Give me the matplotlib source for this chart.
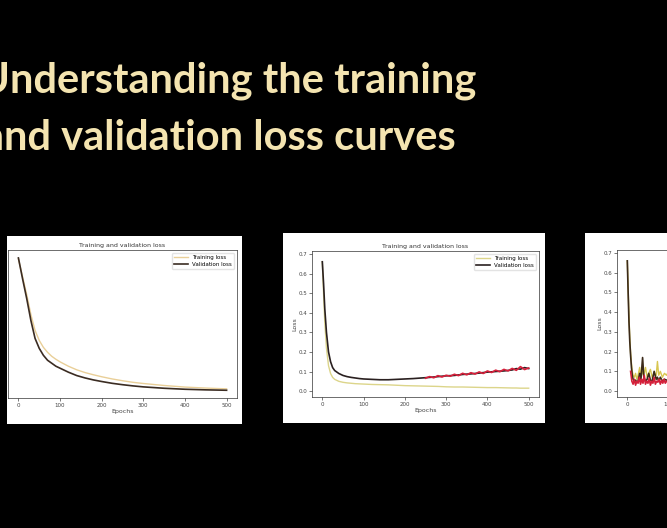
import matplotlib
matplotlib.use("Agg")
import matplotlib.pyplot as plt

W, H = 667, 528

# ---------------- data ----------------
title_lines = ["Understanding the training", "and validation loss curves"]
panel_title = "Training and validation loss"
legend_labels = ["Training loss", "Validation loss"]
xticks = [0, 100, 200, 300, 400, 500]
yticks = [0.0, 0.1, 0.2, 0.3, 0.4, 0.5, 0.6, 0.7]

# Panel 1 (smooth)
p1_epochs = [0, 10, 20, 30, 40, 50, 60, 70, 80, 90, 100, 120, 140, 160, 180, 200,
             225, 250, 275, 300, 350, 400, 450, 500]
p1_train = [0.67, 0.58, 0.49, 0.39, 0.31, 0.26, 0.225, 0.20, 0.18, 0.165, 0.152, 0.13,
            0.112, 0.098, 0.087, 0.077, 0.066, 0.057, 0.049, 0.043, 0.033, 0.025, 0.020, 0.016]
p1_val = [0.675, 0.57, 0.47, 0.36, 0.27, 0.22, 0.185, 0.16, 0.145, 0.13, 0.12, 0.10,
          0.083, 0.071, 0.061, 0.053, 0.044, 0.037, 0.031, 0.026, 0.019, 0.014, 0.011, 0.009]

# Panel 2 (overfitting)
p2_epochs = [0, 3, 6, 10, 15, 20, 25, 30, 40, 50, 60, 70, 80, 90, 100, 120, 140, 160,
             180, 200, 220, 240, 260, 280, 300, 320, 340, 360, 380, 400, 420, 440, 460,
             470, 480, 490, 500]
p2_train = [0.66, 0.50, 0.35, 0.22, 0.13, 0.09, 0.07, 0.06, 0.05, 0.045, 0.042, 0.04,
            0.038, 0.037, 0.036, 0.034, 0.033, 0.032, 0.030, 0.028, 0.027, 0.026, 0.025,
            0.024, 0.022, 0.021, 0.021, 0.020, 0.019, 0.018, 0.018, 0.017, 0.016, 0.016,
            0.015, 0.015, 0.015]
p2_val = [0.66, 0.55, 0.42, 0.30, 0.20, 0.15, 0.12, 0.105, 0.09, 0.08, 0.074, 0.07,
          0.067, 0.064, 0.062, 0.060, 0.058, 0.058, 0.060, 0.062, 0.064, 0.067, 0.070,
          0.074, 0.078, 0.080, 0.085, 0.088, 0.092, 0.097, 0.100, 0.103, 0.108, 0.115,
          0.112, 0.120, 0.115]
p2_noisy_epochs = [250, 260, 270, 280, 290, 300, 310, 320, 330, 340, 350, 360, 370, 380,
                   390, 400, 410, 420, 430, 440, 450, 460, 470, 480, 490, 500]
p2_noisy_val = [0.066, 0.074, 0.068, 0.079, 0.072, 0.081, 0.076, 0.086, 0.079, 0.091,
                0.083, 0.094, 0.087, 0.098, 0.090, 0.103, 0.095, 0.107, 0.099, 0.111,
                0.103, 0.116, 0.106, 0.125, 0.110, 0.118]

# Panel 3 (noisy, only the start is visible)
p3_epochs = [0, 2, 4, 6, 8, 10, 12, 14, 17, 20, 23, 26, 30, 33, 37, 40, 44, 48, 52, 56,
             60, 65, 70, 73, 76, 80, 85, 90, 95, 100, 110, 120]
p3_train = [0.66, 0.52, 0.38, 0.27, 0.19, 0.14, 0.10, 0.08, 0.07, 0.09, 0.06, 0.08, 0.12,
            0.07, 0.10, 0.08, 0.12, 0.07, 0.09, 0.11, 0.07, 0.09, 0.08, 0.15, 0.08, 0.10,
            0.07, 0.09, 0.08, 0.10, 0.08, 0.09]
p3_val = [0.66, 0.50, 0.35, 0.25, 0.18, 0.12, 0.08, 0.06, 0.05, 0.055, 0.045, 0.05, 0.09,
          0.06, 0.17, 0.07, 0.05, 0.06, 0.09, 0.055, 0.05, 0.10, 0.06, 0.07, 0.05, 0.07,
          0.05, 0.06, 0.055, 0.06, 0.05, 0.06]
p3_noisy_epochs = [8, 11, 14, 17, 20, 23, 26, 29, 32, 35, 38, 41, 44, 47, 50, 53, 56, 59,
                   62, 65, 68, 71, 74, 77, 80, 83, 86, 89, 92, 95, 100, 110, 120]
p3_noisy_val = [0.10, 0.05, 0.035, 0.06, 0.03, 0.05, 0.04, 0.07, 0.035, 0.06, 0.04, 0.08,
                0.035, 0.05, 0.04, 0.065, 0.03, 0.05, 0.04, 0.07, 0.035, 0.05, 0.045, 0.06,
                0.035, 0.055, 0.04, 0.06, 0.04, 0.05, 0.045, 0.05, 0.04]

# ---------------- figure ----------------
fig = plt.figure(figsize=(W / 100, H / 100), dpi=100, facecolor="black")


def px_axes(x0, y0, x1, y1, **kw):
    return fig.add_axes([x0 / W, 1 - y1 / H, (x1 - x0) / W, (y1 - y0) / H], **kw)


bg = px_axes(0, 0, W, H)
bg.set_xlim(0, W)
bg.set_ylim(H, 0)
bg.set_facecolor("black")
bg.axis("off")

title_color = "#f4e4b0"
bg.text(476, 93, title_lines[0], ha="right", va="baseline", fontsize=30,
        family="Lato", weight="bold", color=title_color, clip_on=True)
bg.text(456, 150, title_lines[1], ha="right", va="baseline", fontsize=30,
        family="Lato", weight="bold", color=title_color, clip_on=True)

TXT = "#444444"


def style(ax, show_y=True, decorate=True):
    ax.set_xlim(-25, 525)
    ax.set_ylim(-0.03, 0.715)
    ax.set_xticks(xticks)
    ax.set_yticks(yticks)
    ax.tick_params(labelsize=4, length=2, width=0.5, pad=1.5, colors=TXT)
    if not show_y:
        ax.tick_params(axis="y", labelleft=False, left=False)
    for s in ax.spines.values():
        s.set_linewidth(0.5)
        s.set_color("#333333")
    if decorate:
        ax.set_title(panel_title, fontsize=4.5, pad=2, color="#333333")
        ax.set_xlabel("Epochs", fontsize=4.5, labelpad=1, color=TXT)
    if show_y:
        ax.set_ylabel("Loss", fontsize=4.5, labelpad=1, color=TXT)


panels = [
    ((7, 236, 242, 424), (8, 250, 237, 398), False, True),
    ((283, 233, 545, 423), (312, 251, 539, 397), True, True),
    ((585, 233, 850, 423), (617, 250, 844, 397), True, False),
]

axes = []
for white, inner, showy, deco in panels:
    wa = px_axes(*white)
    wa.set_facecolor("white")
    wa.set_xticks([])
    wa.set_yticks([])
    for s in wa.spines.values():
        s.set_visible(False)
    ax = px_axes(*inner)
    style(ax, showy, deco)
    axes.append(ax)

ax1, ax2, ax3 = axes

ax1.plot(p1_epochs, p1_train, color="#e9cf98", lw=1.0, label=legend_labels[0])
ax1.plot(p1_epochs, p1_val, color="#3b2c22", lw=1.2, label=legend_labels[1])

ax2.plot(p2_epochs, p2_train, color="#dcd58a", lw=1.0, label=legend_labels[0])
ax2.plot(p2_epochs, p2_val, color="#2a2020", lw=1.2, label=legend_labels[1])
ax2.plot(p2_noisy_epochs, p2_noisy_val, color="#d8203c", lw=1.2)

ax3.plot(p3_epochs, p3_train, color="#d8c650", lw=1.0)
ax3.plot(p3_epochs, p3_val, color="#3b2a1a", lw=1.2)
ax3.plot(p3_noisy_epochs, p3_noisy_val, color="#d4203a", lw=1.2)

for ax in (ax1, ax2):
    ax.legend(loc="upper right", fontsize=4, frameon=True, framealpha=0.8,
              edgecolor="#dddddd", handlelength=2.5, borderpad=0.4, labelspacing=0.3)

fig.savefig("out.png", dpi=100, facecolor="black")
